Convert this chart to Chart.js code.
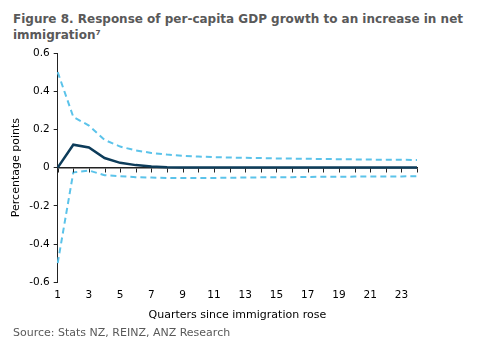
<!DOCTYPE html>
<html>
<head>
<meta charset="utf-8">
<script src="https://cdn.jsdelivr.net/npm/chart.js@4/dist/chart.umd.min.js"></script>
<style>
  body { margin: 0; background: #fff; font-family: 'DejaVu Sans', Verdana, sans-serif; }
  #wrap { position: relative; width: 485px; height: 353px; }
  #title { position: absolute; left: 13px; top: 11px; width: 470px; font-size: 12px; font-weight: bold; color: #595959; line-height: 16px; }
  #source { position: absolute; left: 13px; top: 326px; font-size: 11px; color: #595959; }
  canvas { position: absolute; left: 0; top: 0; }
</style>
</head>
<body>
<div id="wrap">
  <div id="title">Figure 8. Response of per-capita GDP growth to an increase in net immigration⁷</div>
  <canvas id="chart" width="485" height="353"></canvas>
  <div id="source">Source: Stats NZ, REINZ, ANZ Research</div>
</div>
<script>
// quarters since immigration rose
const quarters = [1, 2, 3, 4, 5, 6, 7, 8, 9, 10, 11, 12, 13, 14, 15, 16, 17, 18, 19, 20, 21, 22, 23, 24];

// central response and confidence bands (percentage points)
const response = [0, 0.12, 0.105, 0.05, 0.025, 0.013, 0.006, 0.002, 0, 0, 0, 0, 0, 0, 0, 0, 0, 0, 0, 0, 0, 0, 0, 0];
const upperBand = [0.5, 0.265, 0.22, 0.145, 0.11, 0.09, 0.077, 0.068, 0.062, 0.058, 0.055, 0.053, 0.051, 0.05, 0.048, 0.047, 0.046, 0.045, 0.044, 0.043, 0.042, 0.041, 0.041, 0.04];
const lowerBand = [-0.5, -0.025, -0.015, -0.04, -0.045, -0.05, -0.052, -0.054, -0.055, -0.055, -0.054, -0.053, -0.052, -0.051, -0.05, -0.05, -0.049, -0.048, -0.048, -0.047, -0.047, -0.046, -0.046, -0.045];

const yTicks = [-0.6, -0.4, -0.2, 0, 0.2, 0.4, 0.6];

const tickFont = { family: 'DejaVu Sans', size: 10.5 };

// small tick marks hanging below the zero line, one per quarter
const zeroTicks = {
    id: 'zeroTicks',
    afterDatasetsDraw(chart) {
        const ctx = chart.ctx;
        const x = chart.scales.x;
        const y0 = Math.round(chart.scales.y.getPixelForValue(0)) + 0.5;
        ctx.save();
        ctx.strokeStyle = '#222';
        ctx.lineWidth = 1;
        ctx.beginPath();
        quarters.forEach((q, i) => {
            const px = Math.round(x.getPixelForTick(i)) + 0.5;
            ctx.moveTo(px, y0);
            ctx.lineTo(px, y0 + 4);
        });
        ctx.stroke();
        ctx.restore();
    }
};

new Chart(document.getElementById('chart'), {
    type: 'line',
    data: {
        labels: quarters,
        datasets: [
            {
                label: 'Upper',
                data: upperBand,
                borderColor: '#5bc3ea',
                borderWidth: 2,
                borderDash: [6, 4],
                pointRadius: 0,
                tension: 0,
                fill: false
            },
            {
                label: 'Lower',
                data: lowerBand,
                borderColor: '#5bc3ea',
                borderWidth: 2,
                borderDash: [6, 4],
                pointRadius: 0,
                tension: 0,
                fill: false
            },
            {
                label: 'Response',
                data: response,
                borderColor: '#0d3c5a',
                borderWidth: 2.5,
                pointRadius: 0,
                tension: 0,
                fill: false
            }
        ]
    },
    options: {
        responsive: false,
        animation: false,
        layout: { padding: { top: 53, right: 68, bottom: 31, left: 10 } },
        plugins: {
            legend: { display: false },
            tooltip: { enabled: false }
        },
        scales: {
            x: {
                type: 'category',
                offset: false,
                border: { display: false },
                grid: { display: false, drawTicks: false },
                ticks: {
                    autoSkip: false,
                    maxRotation: 0,
                    color: '#000',
                    font: tickFont,
                    padding: 7,
                    callback: function (v, i) { return quarters[i] % 2 === 1 ? quarters[i] : ''; }
                },
                title: {
                    display: true,
                    text: 'Quarters since immigration rose',
                    color: '#000',
                    font: { family: 'DejaVu Sans', size: 11 },
                    padding: { top: 0, bottom: 0 }
                }
            },
            x2: {
                type: 'category',
                offset: false,
                position: { y: 0 },
                border: { display: true, color: '#222', width: 1.5 },
                grid: { display: false },
                ticks: { display: false }
            },
            y: {
                min: -0.6,
                max: 0.6,
                afterBuildTicks: function (axis) { axis.ticks = yTicks.map(v => ({ value: v })); },
                border: { display: true, color: '#222', width: 1 },
                grid: { drawOnChartArea: false, drawTicks: true, tickLength: 4, color: '#222' },
                ticks: {
                    color: '#000',
                    font: tickFont,
                    padding: 4,
                    callback: v => v === 0 ? '0' : v.toFixed(1)
                },
                title: {
                    display: true,
                    text: 'Percentage points',
                    color: '#000',
                    font: { family: 'DejaVu Sans', size: 11 },
                    padding: { top: 0, bottom: 2 }
                }
            }
        }
    },
    plugins: [zeroTicks]
});
</script>
</body>
</html>
